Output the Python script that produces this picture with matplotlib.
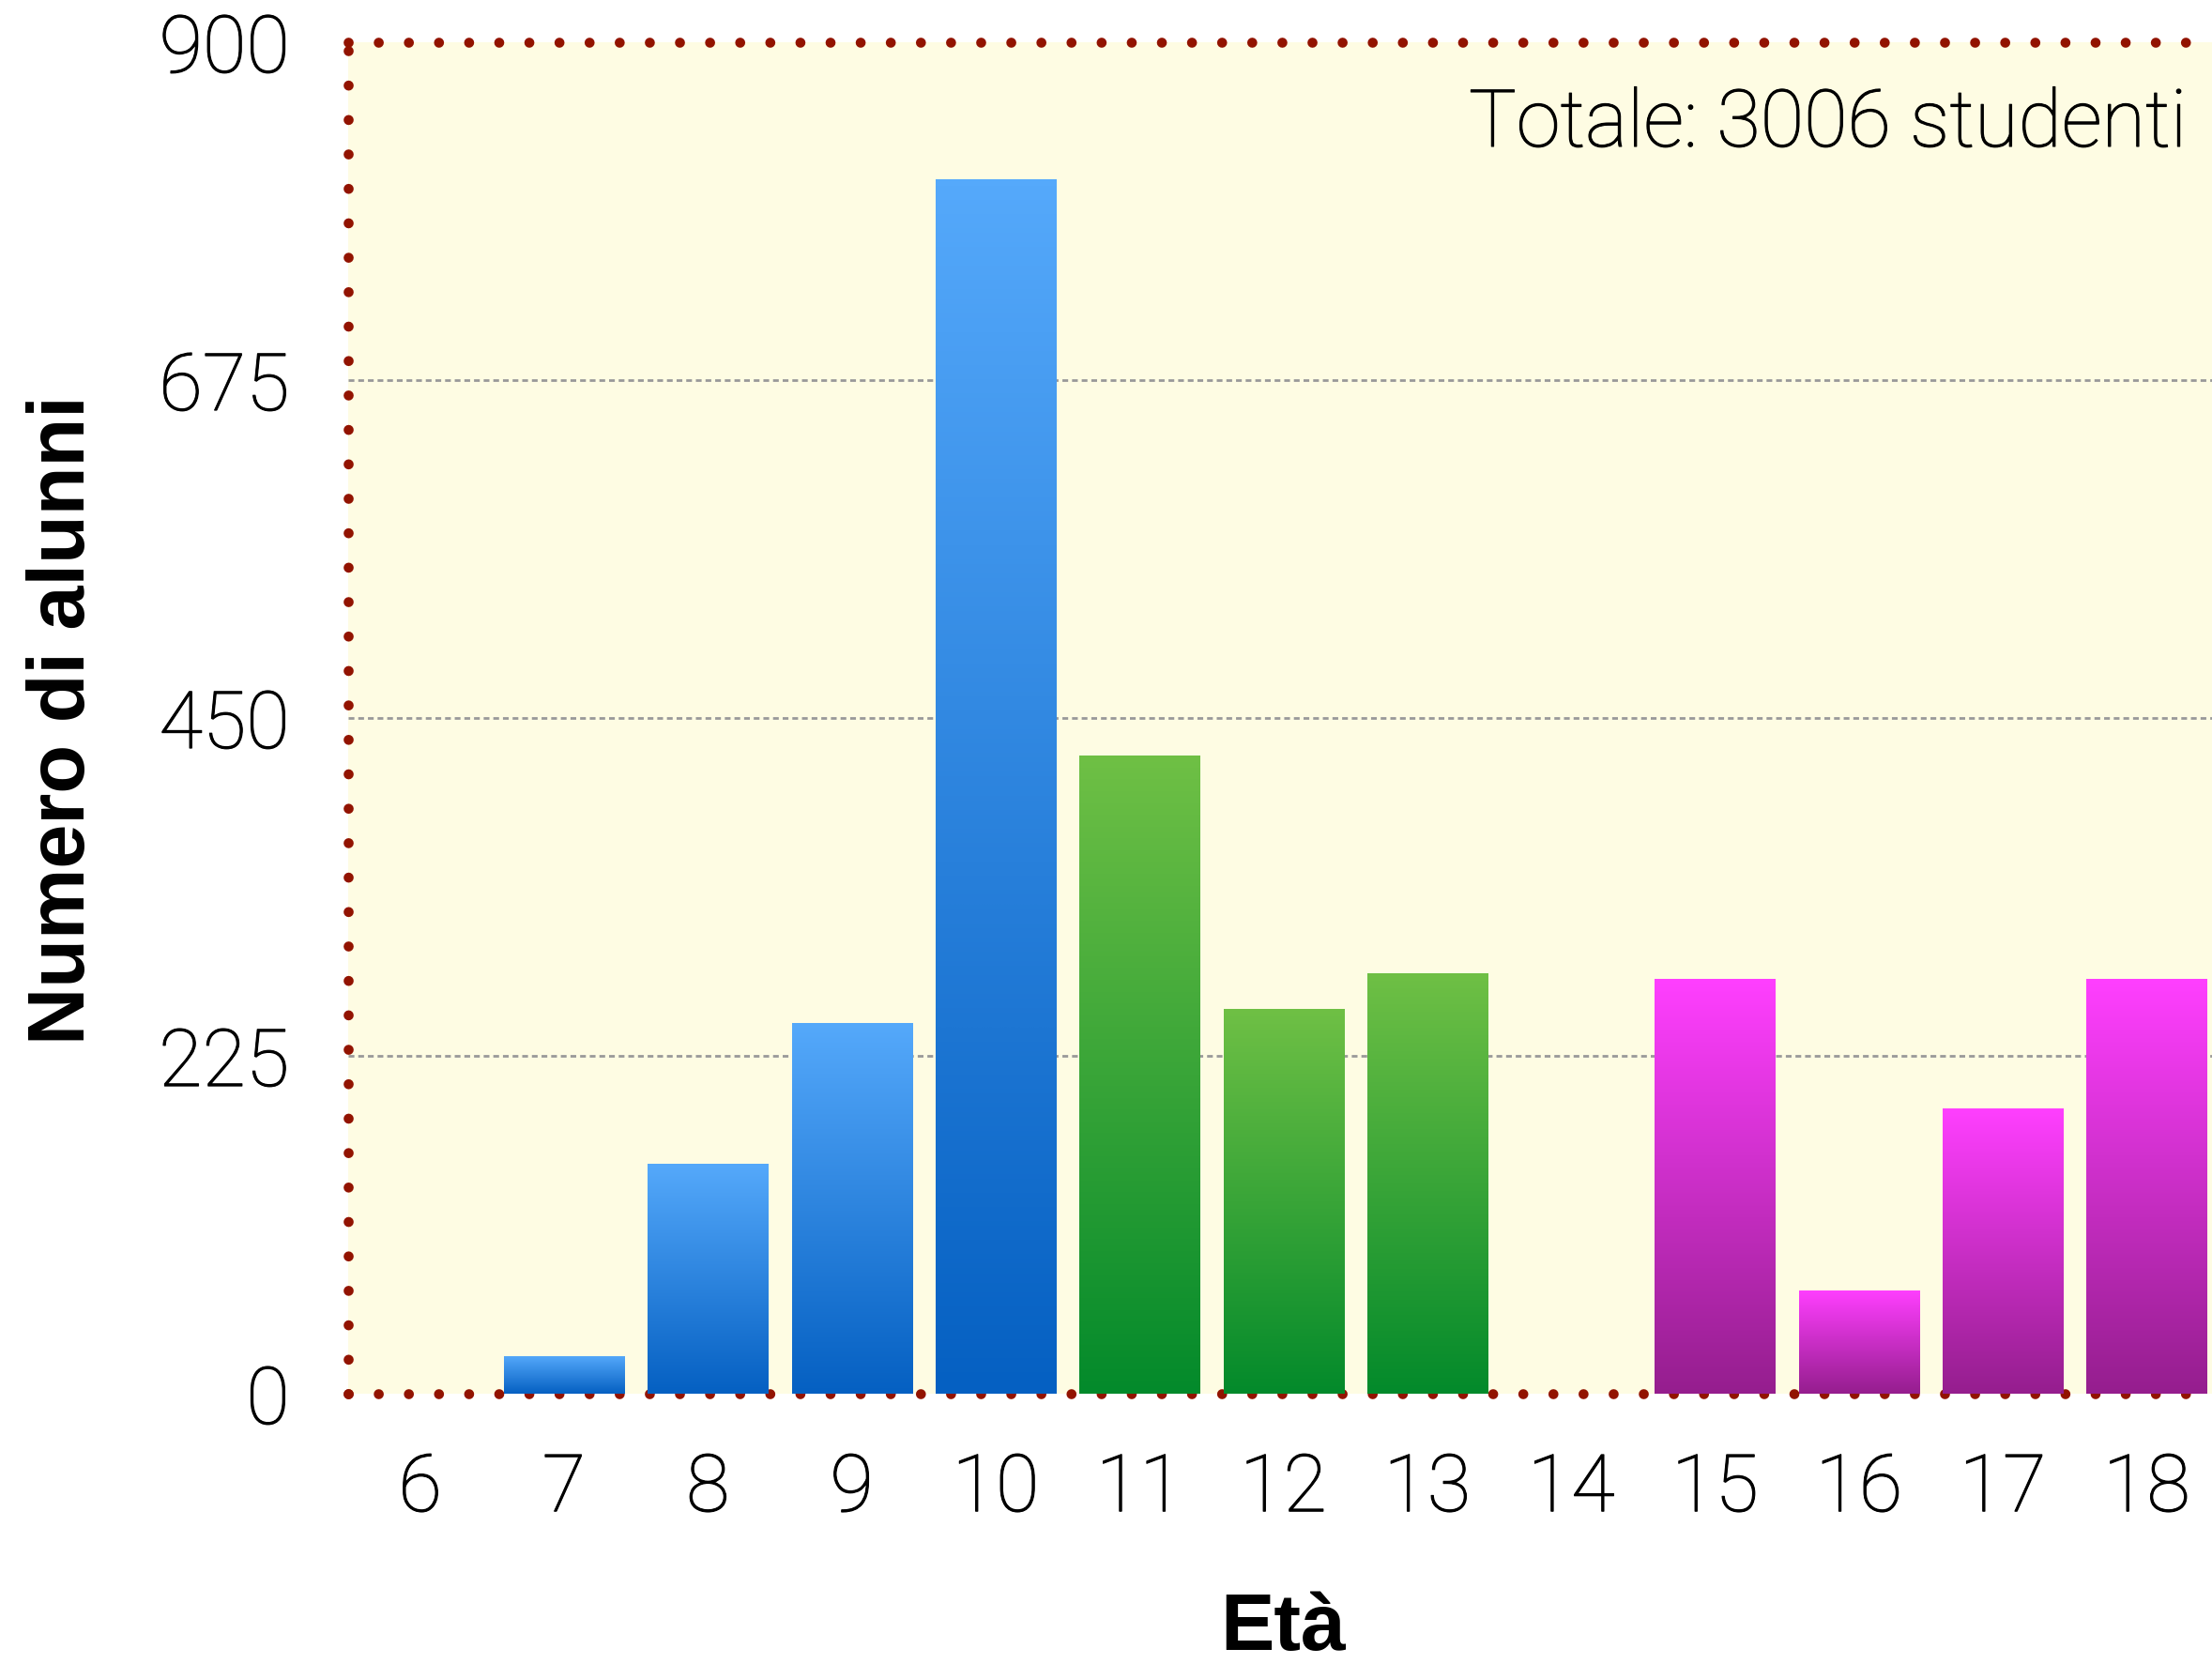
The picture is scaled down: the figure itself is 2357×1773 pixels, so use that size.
import numpy as np
import matplotlib
matplotlib.use("Agg")
import matplotlib.pyplot as plt
import matplotlib.patheffects as pe
from matplotlib.colors import LinearSegmentedColormap

# Student counts by age
ages = [6, 7, 8, 9, 10, 11, 12, 13, 14, 15, 16, 17, 18]
counts = [0, 25, 153, 247, 809, 425, 256, 280, 0, 276, 69, 190, 276]
school_level = ["primaria"] * 5 + ["media"] * 3 + ["superiore"] * 5
yticks = [0, 225, 450, 675, 900]
total_label = "Totale: 3006 studenti"

# Gradient colours per school level: (bottom, top)
level_colors = {
    "primaria": ("#0560C2", "#55A9FB"),
    "media": ("#038A2B", "#6FC045"),
    "superiore": ("#951E8E", "#FF3FFF"),
}

light_font = "Roboto"
bold_font = "Liberation Sans"
light_size = 61
# slightly thicken the light face
light_fx = [pe.withStroke(linewidth=0.8, foreground="black")]

fig = plt.figure(figsize=(23.57, 17.73), dpi=100)
ax = fig.add_axes([0.1574, 0.1624, 0.8456, 0.8122])
ax.set_facecolor("#FEFCE3")

bars = ax.bar(ages, counts, width=0.835, color="none", edgecolor="none", zorder=3)

gradient = np.linspace(0, 1, 256).reshape(-1, 1)
for rect, level in zip(bars, school_level):
    h = rect.get_height()
    if h <= 0:
        continue
    cmap = LinearSegmentedColormap.from_list(level, list(level_colors[level]))
    x0 = rect.get_x()
    im = ax.imshow(gradient, extent=[x0, x0 + rect.get_width(), 0, h],
                   origin="lower", aspect="auto", cmap=cmap, zorder=3,
                   interpolation="bicubic")
    im.set_clip_path(rect)

ax.set_xlim(5.5, 18.5)
ax.set_ylim(0, 900)
ax.set_aspect("auto")

# Dashed guide lines at the inner ticks
for y in yticks[1:-1]:
    ax.axhline(y, color="#999999", linewidth=2, linestyle=(0, (2.2, 1.5)), zorder=1)

# Dotted dark-red frame
for side, gap in [("left", 3.43), ("bottom", 3.0), ("top", 3.0), ("right", 3.0)]:
    sp = ax.spines[side]
    sp.set_color("#921300")
    sp.set_linewidth(7.7)
    sp.set_linestyle((0, (0.001, gap)))
    sp.set_capstyle("round")
    sp.set_zorder(2)

ax.set_xticks(ages)
ax.set_xticklabels([str(a) for a in ages])
ax.set_yticks(yticks)
ax.set_yticklabels([str(v) for v in yticks])
ax.tick_params(axis="both", length=0, labelsize=light_size)
ax.tick_params(axis="x", pad=44)
ax.tick_params(axis="y", pad=45)
for lab in ax.get_xticklabels() + ax.get_yticklabels():
    lab.set_fontfamily(light_font)
    lab.set_fontweight("light")
    lab.set_path_effects(light_fx)

ax.set_ylabel("Numero di alunni", fontsize=61, fontweight="bold",
              family=bold_font, va="center")
ax.yaxis.set_label_coords(-0.152, 0.4986)
ax.set_xlabel("Età", fontsize=62, fontweight="bold", family=bold_font,
              va="baseline")
ax.xaxis.set_label_coords(0.5, -0.1896)

fig.text(2330 / 2357, 1 - 156 / 1773, total_label, ha="right", va="baseline",
         fontsize=light_size, family=light_font, fontweight="light",
         path_effects=light_fx)

fig.savefig("out.png", dpi=100, facecolor="white")
